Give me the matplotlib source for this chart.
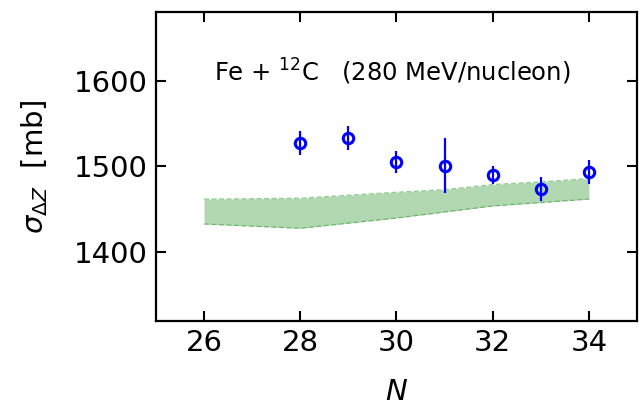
import matplotlib
matplotlib.use('Agg')
import matplotlib.pyplot as plt

# measured cross sections
N_exp = [28, 29, 30, 31, 32, 33, 34]
sigma_exp = [1527, 1533, 1505, 1501, 1490, 1474, 1493]
sigma_err = [14, 14, 13, 32, 10, 14, 14]

# model band
N_band = [26, 28, 30, 31, 32, 33, 34]
band_hi = [1462, 1463, 1470, 1473, 1479, 1482, 1486]
band_lo = [1433, 1428, 1440, 1447, 1454, 1458, 1462]

xticks = [26, 28, 30, 32, 34]
yticks = [1400, 1500, 1600]

fig = plt.figure(figsize=(6.39, 4.09), dpi=100)
ax = fig.add_axes([0.244, 0.215, 0.753, 0.756])

ax.fill_between(N_band, band_lo, band_hi, color='green', alpha=0.3, linewidth=0)
ax.plot(N_band, band_hi, '--', color='green', alpha=0.4, lw=0.9, dashes=(4, 2))
ax.plot(N_band, band_lo, '--', color='green', alpha=0.4, lw=0.9, dashes=(4, 2))

ax.errorbar(N_exp, sigma_exp, yerr=sigma_err, fmt='o', color='blue', mfc='none',
            mec='blue', ms=7.5, mew=2.2, elinewidth=1.6, capsize=0)

ax.text(26.2, 1610, r'Fe + $^{12}$C   (280 MeV/nucleon)', fontsize=17.5, va='center')

ax.set_xlim(25, 35)
ax.set_ylim(1320, 1680)
ax.set_xticks(xticks)
ax.set_yticks(yticks)
ax.tick_params(direction='in', top=True, right=True, labelsize=21, length=7, width=1.5, pad=6)
for s in ax.spines.values():
    s.set_linewidth(1.6)

ax.set_xlabel(r'$N$', fontsize=21, labelpad=15)
ax.set_ylabel(r'$\sigma_{\Delta Z}$  [mb]', fontsize=21, labelpad=17)

fig.savefig('out.png', dpi=100)
